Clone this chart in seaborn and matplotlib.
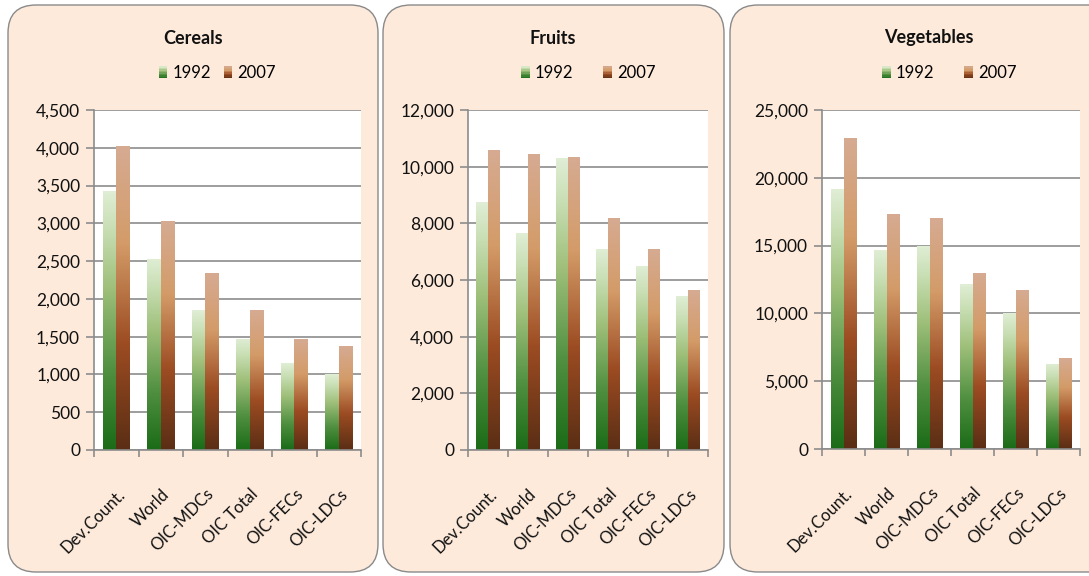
import numpy as np
import pandas as pd
import matplotlib
matplotlib.use("Agg")
import matplotlib.pyplot as plt
import matplotlib.transforms as mtransforms
import seaborn as sns
from matplotlib.colors import LinearSegmentedColormap
from matplotlib.patches import FancyBboxPatch, Rectangle
from matplotlib.legend_handler import HandlerBase
from matplotlib.ticker import FuncFormatter, FixedLocator

categories = ["Dev.Count.", "World", "OIC-MDCs", "OIC Total", "OIC-FECs", "OIC-LDCs"]
years = ["1992", "2007"]

cereals_1992 = [3430, 2530, 1850, 1470, 1150, 1000]
cereals_2007 = [4020, 3030, 2340, 1850, 1470, 1370]
fruits_1992 = [8750, 7650, 10300, 7080, 6500, 5430]
fruits_2007 = [10580, 10430, 10340, 8200, 7080, 5630]
veg_1992 = [19150, 14700, 15000, 12150, 10000, 6300]
veg_2007 = [22950, 17350, 17000, 13000, 11750, 6700]

titles = ["Cereals", "Fruits", "Vegetables"]
series = [(cereals_1992, cereals_2007), (fruits_1992, fruits_2007), (veg_1992, veg_2007)]
y_max = [4500, 12000, 25000]
y_step = [500, 2000, 5000]

W, H = 1089, 576
# panel boxes and plot areas in pixels (left, top, right, bottom)
boxes = [(8, 5, 378, 572), (383, 5, 724, 572), (730, 5, 1128, 572)]
plots = [(94, 110, 361, 450), (468, 110, 708, 450), (822, 110, 1080, 449)]
title_x = [193, 553, 929]
legend_x = [215, 586, 947]
legend_gap = [0.5, 1.5, 1.5]

green = LinearSegmentedColormap.from_list(
    "g", [(0, "#1a6b17"), (0.3, "#4f8f3f"), (0.62, "#9ebf79"), (0.85, "#c8deb3"), (1, "#e0eed5")])
brown = LinearSegmentedColormap.from_list(
    "b", [(0, "#5a2e15"), (0.35, "#9c4c22"), (0.68, "#d39b68"), (1, "#d6ab92")])
cmaps = [green, brown]


class GradHandler(HandlerBase):
    def __init__(self, cmap):
        super().__init__()
        self.cmap = cmap

    def create_artists(self, legend, orig, x0, y0, width, height, fontsize, trans):
        n = 8
        w = height * 0.75
        xs = x0 + width - w
        arts = []
        for i in range(n):
            r = Rectangle((xs, y0 + i * height / n), w, height / n + 0.2,
                          facecolor=self.cmap((i + 0.5) / n), edgecolor="none", transform=trans)
            arts.append(r)
        return arts


plt.rcParams["font.family"] = ["Lato", "DejaVu Sans"]
fig = plt.figure(figsize=(W / 100, H / 100), dpi=100)
fig.patch.set_facecolor("white")

grad = np.linspace(0, 1, 256).reshape(-1, 1)
label_shift = mtransforms.ScaledTranslation(6 / 100, 0, fig.dpi_scale_trans)

for k in range(3):
    bx = boxes[k]
    box = FancyBboxPatch((bx[0] / 100, (H - bx[3]) / 100), (bx[2] - bx[0]) / 100, (bx[3] - bx[1]) / 100,
                         boxstyle="round,pad=0,rounding_size=0.28", transform=fig.dpi_scale_trans,
                         facecolor="#fdeadb", edgecolor="#8a8a8a", linewidth=1.0, zorder=0)
    fig.add_artist(box)

    p = plots[k]
    ax = fig.add_axes([p[0] / W, 1 - p[3] / H, (p[2] - p[0]) / W, (p[3] - p[1]) / H])
    ax.set_facecolor("white")

    df = pd.DataFrame({
        "region": categories * 2,
        "year": [years[0]] * 6 + [years[1]] * 6,
        "value": list(series[k][0]) + list(series[k][1]),
    })
    sns.barplot(data=df, x="region", y="value", hue="year", width=0.6,
                palette=["#6a9c50", "#b46a3a"], ax=ax, legend=False, saturation=1)

    # replace flat fills with vertical gradients
    for ci, cont in enumerate(ax.containers):
        for patch in cont.patches:
            x0 = patch.get_x()
            w = patch.get_width()
            h = patch.get_height()
            patch.set_facecolor("none")
            patch.set_edgecolor("none")
            im = ax.imshow(grad, cmap=cmaps[ci], origin="lower", aspect="auto",
                           extent=[x0, x0 + w, 0, h], zorder=2, interpolation="bilinear")
            im.set_clip_path(patch)

    ax.set_xlim(-0.5, 5.5)
    ax.set_ylim(0, y_max[k])
    ax.set_yticks(np.arange(0, y_max[k] + 1, y_step[k]))
    ax.yaxis.set_major_formatter(FuncFormatter(lambda v, pos: f"{v:,.0f}"))
    ax.grid(axis="y", color="#8c8c8c", linewidth=1.2)
    ax.grid(axis="x", visible=False)
    ax.set_axisbelow(True)

    ax.set_xlabel("")
    ax.set_ylabel("")
    for s in ["top", "right"]:
        ax.spines[s].set_visible(False)
    for s in ["left", "bottom"]:
        ax.spines[s].set_color("#8c8c8c")
        ax.spines[s].set_linewidth(1.2)

    ax.tick_params(axis="y", length=6, color="#8c8c8c", width=1.2, labelsize=12.5,
                   labelcolor="#111111", pad=4)
    ax.xaxis.set_minor_locator(FixedLocator(np.arange(-0.5, 6, 1)))
    ax.tick_params(axis="x", which="minor", length=5, color="#8c8c8c", width=1.2)
    ax.tick_params(axis="x", which="major", length=0, labelsize=12, labelcolor="#111111", pad=30)
    for lab in ax.get_xticklabels():
        lab.set_rotation(45)
        lab.set_ha("right")
        lab.set_va("center")
        lab.set_rotation_mode("anchor")
        lab.set_transform(lab.get_transform() + label_shift)

    fig.text(title_x[k] / W, 1 - 38 / H, titles[k], ha="center", va="center",
             fontsize=13, fontweight="bold", color="#111111")

    handles = [Rectangle((0, 0), 1, 1), Rectangle((0, 1), 1, 1)]
    lx = (legend_x[k] - p[0]) / (p[2] - p[0])
    ax.legend(handles, years, loc="center", bbox_to_anchor=(lx, 1 + (110 - 73) / (p[3] - p[1])),
              ncol=2, frameon=False, fontsize=12, handlelength=0.8, handletextpad=0.3,
              columnspacing=legend_gap[k],
              handler_map={handles[0]: GradHandler(green), handles[1]: GradHandler(brown)})

fig.savefig("out.png", dpi=100)
